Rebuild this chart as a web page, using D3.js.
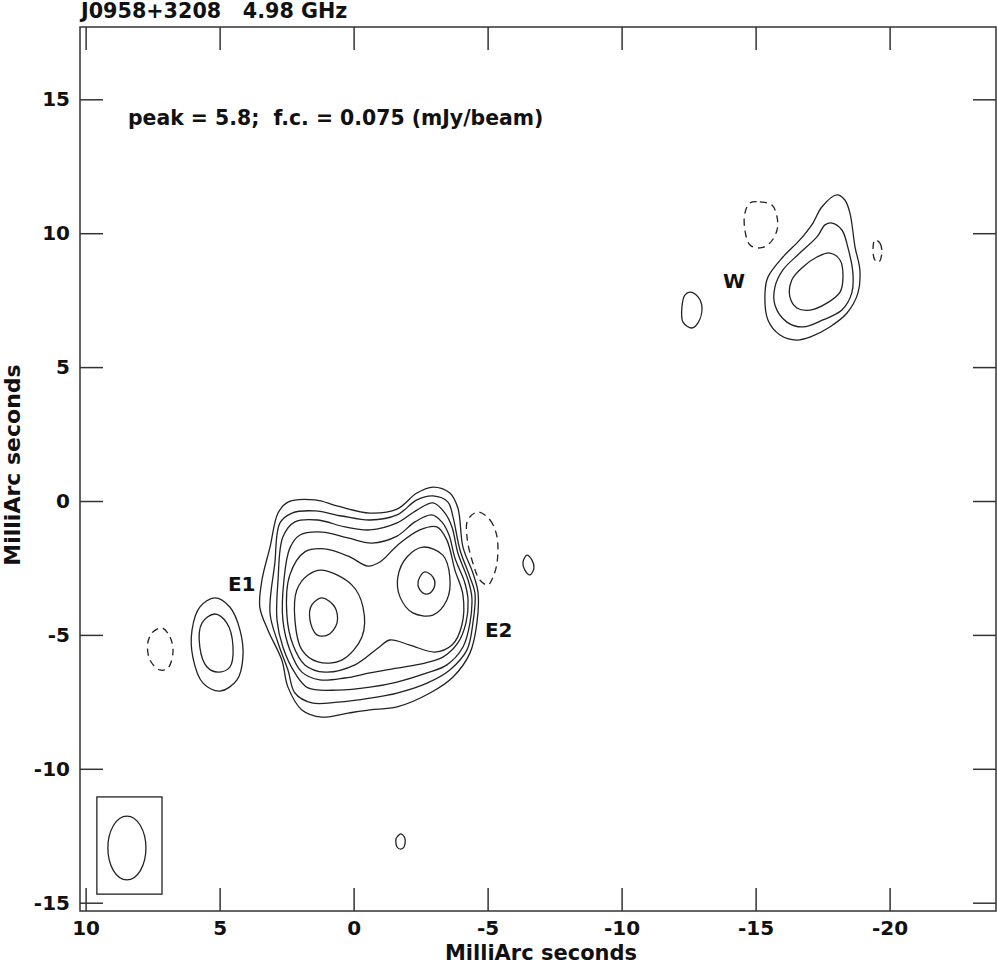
<!DOCTYPE html>
<html><head><meta charset="utf-8">
<script src="https://cdn.jsdelivr.net/npm/d3@7"></script>
<style>
html,body{margin:0;padding:0;background:#fff;}
svg text{font-family:"DejaVu Sans",sans-serif;font-weight:bold;fill:#111;white-space:pre;}
</style></head>
<body><svg id="c" width="997" height="965"></svg>
<script>
// ---- axes / text data ----
const xDomain = [10.21, -23.97];
const yDomain = [17.70, -15.31];
const xTicks = [10, 5, 0, -5, -10, -15, -20];
const yTicks = [15, 10, 5, 0, -5, -10, -15];
const titleText = "J0958+3208   4.98 GHz";
const peakText = "peak = 5.8;  f.c. = 0.075 (mJy/beam)";
const axisLabel = "MilliArc seconds";
const componentLabels = [["E1", 4.69, -3.36], ["E2", -4.90, -5.08], ["W", -13.78, 7.95]];
const beam = {cx: 8.46, cy: -12.96, rx: 0.71, ry: 1.19};
const beamBox = [9.58, -11.05, 7.15, -14.68];

// ---- contour data (mas) ----
const eLevel1 = [[2.45,-0.04],[1.44,0.04],[0.59,-0.19],[-0.61,-0.45],[-1.62,-0.30],[-2.36,0.30],[-2.96,0.52],[-3.59,0.30],[-3.89,-0.26],[-4.08,-1.72],[-4.45,-2.69],[-4.64,-3.40],[-4.60,-4.56],[-4.34,-5.68],[-3.71,-6.57],[-2.85,-7.17],[-1.62,-7.69],[-0.61,-7.80],[0.21,-7.92],[1.18,-8.07],[1.93,-7.80],[2.45,-6.95],[2.68,-5.94],[3.20,-4.82],[3.50,-3.96],[3.42,-2.95],[3.12,-1.72],[2.82,-0.45]];
const eLevel2 = [[2.30,-0.45],[1.44,-0.37],[0.44,-0.56],[-0.61,-0.71],[-1.62,-0.52],[-2.36,0.04],[-2.96,0.19],[-3.52,-0.04],[-3.71,-0.60],[-3.97,-1.83],[-4.34,-2.84],[-4.53,-3.47],[-4.45,-4.56],[-4.23,-5.56],[-3.59,-6.31],[-2.74,-6.80],[-1.62,-7.17],[-0.61,-7.36],[0.59,-7.51],[1.56,-7.54],[2.19,-7.17],[2.45,-6.31],[2.82,-5.30],[3.12,-4.18],[2.94,-2.32],[2.75,-0.82]];
const eLevel3 = [[2.19,-0.78],[1.33,-0.71],[0.32,-0.97],[-0.61,-1.08],[-1.62,-0.82],[-2.36,-0.34],[-2.96,-0.07],[-3.41,-0.45],[-3.67,-0.97],[-3.89,-1.94],[-4.27,-2.95],[-4.41,-3.58],[-4.34,-4.56],[-4.08,-5.45],[-3.48,-6.12],[-2.74,-6.42],[-1.62,-6.76],[-0.61,-6.95],[0.59,-7.06],[1.70,-6.98],[2.19,-6.42],[2.64,-5.45],[2.86,-4.44],[2.82,-2.95],[2.64,-1.34]];
const eLevel4 = [[2.00,-1.27],[1.18,-1.16],[0.21,-1.38],[-0.68,-1.57],[-1.62,-1.31],[-2.29,-0.78],[-2.92,-0.52],[-3.29,-0.78],[-3.56,-1.27],[-3.78,-2.13],[-4.15,-3.06],[-4.27,-3.70],[-4.19,-4.56],[-3.89,-5.30],[-3.33,-5.83],[-2.66,-6.05],[-1.62,-6.24],[-0.61,-6.42],[0.32,-6.61],[1.26,-6.68],[1.93,-6.39],[2.38,-5.56],[2.64,-4.44],[2.60,-2.95],[2.38,-1.76]];
const eLevel5 = [[1.82,-1.90],[1.07,-1.79],[0.14,-2.09],[-0.53,-2.43],[-0.98,-2.28],[-1.65,-1.64],[-2.47,-1.08],[-3.11,-0.97],[-3.48,-1.46],[-3.78,-2.58],[-4.08,-3.51],[-4.04,-4.63],[-3.67,-5.38],[-3.03,-5.64],[-2.10,-5.38],[-1.35,-5.19],[-0.91,-5.49],[-0.05,-6.12],[1.07,-6.39],[1.82,-6.12],[2.26,-5.38],[2.49,-4.26],[2.38,-2.76]];
const e1Level6 = [[1.18,-2.58],[0.06,-3.14],[-0.35,-3.96],[-0.31,-5.08],[0.44,-5.94],[1.33,-6.01],[1.93,-5.56],[2.19,-4.44],[2.12,-3.32],[1.70,-2.76]];
const e1Level7 = [[1.18,-3.62],[0.70,-3.96],[0.62,-4.56],[0.96,-5.00],[1.37,-5.00],[1.63,-4.44],[1.56,-3.88]];
const e2Level6 = [[-2.59,-1.72],[-3.33,-2.02],[-3.59,-2.84],[-3.48,-3.70],[-2.96,-4.26],[-2.21,-4.18],[-1.73,-3.58],[-1.65,-2.84],[-1.99,-2.09]];
const e2Level7 = [[-2.66,-2.65],[-2.96,-2.84],[-3.03,-3.14],[-2.85,-3.44],[-2.59,-3.44],[-2.40,-3.14],[-2.47,-2.84]];
const eastKnotOuter = [[5.18,-3.62],[4.62,-3.96],[4.24,-4.82],[4.13,-5.83],[4.35,-6.68],[4.99,-7.10],[5.62,-6.80],[6.00,-5.83],[6.03,-4.82],[5.74,-3.96]];
const eastKnotInner = [[5.18,-4.22],[4.73,-4.56],[4.50,-5.45],[4.62,-6.20],[5.06,-6.39],[5.47,-6.20],[5.74,-5.45],[5.66,-4.56]];
const eastNegative = [[7.15,-4.74],[6.85,-5.08],[6.74,-5.64],[6.93,-6.24],[7.23,-6.31],[7.60,-5.94],[7.68,-5.30],[7.49,-4.89]];
const e2Negative = [[-4.64,-0.41],[-5.09,-0.71],[-5.35,-1.34],[-5.35,-2.32],[-5.20,-2.84],[-5.01,-3.14],[-4.71,-2.95],[-4.45,-2.32],[-4.23,-1.34],[-4.26,-0.71]];
const e2Blob = [[-6.47,-2.02],[-6.65,-2.20],[-6.73,-2.50],[-6.58,-2.76],[-6.39,-2.58],[-6.32,-2.28]];
const wLevel1 = [[-18.03,11.43],[-18.33,11.24],[-18.52,10.75],[-18.71,9.48],[-18.89,8.63],[-18.82,7.77],[-18.41,7.02],[-17.77,6.50],[-17.03,6.12],[-16.54,6.01],[-15.91,6.20],[-15.46,6.76],[-15.35,7.77],[-15.46,8.36],[-16.02,9.11],[-16.65,9.75],[-17.14,10.38],[-17.47,10.98]];
const wLevel2 = [[-17.85,10.38],[-18.22,10.12],[-18.44,9.48],[-18.63,8.51],[-18.59,7.77],[-18.22,7.13],[-17.51,6.76],[-16.77,6.50],[-16.17,6.68],[-15.72,7.32],[-15.72,7.99],[-16.02,8.63],[-16.65,9.26],[-17.29,9.86],[-17.59,10.31]];
const wLevel3 = [[-17.77,9.26],[-18.15,9.00],[-18.26,8.36],[-18.15,7.80],[-17.66,7.39],[-17.03,7.13],[-16.54,7.21],[-16.28,7.62],[-16.35,8.25],[-16.77,8.74],[-17.29,9.11]];
const wNegative = [[-14.79,11.13],[-15.16,11.17],[-15.61,11.05],[-15.80,10.60],[-15.80,10.12],[-15.53,9.63],[-15.16,9.45],[-14.79,9.56],[-14.60,10.12],[-14.60,10.75]];
const wNegSmall = [[-19.45,9.75],[-19.64,9.63],[-19.71,9.26],[-19.60,8.92],[-19.45,9.00],[-19.38,9.37]];
const wBlob = [[-12.55,7.80],[-12.85,7.62],[-13.00,7.21],[-12.85,6.65],[-12.62,6.46],[-12.29,6.68],[-12.25,7.24],[-12.36,7.69]];
const southBlob = [[-1.76,-12.43],[-1.91,-12.58],[-1.88,-12.92],[-1.76,-13.00],[-1.62,-12.92],[-1.58,-12.62],[-1.65,-12.51]];

const positiveContours = [eLevel1, eLevel2, eLevel3, eLevel4, eLevel5, e1Level6, e1Level7, e2Level6, e2Level7,
  eastKnotOuter, eastKnotInner, e2Blob, wLevel1, wLevel2, wLevel3, wBlob, southBlob];
const negativeContours = [eastNegative, e2Negative, wNegative, wNegSmall];

// ---- drawing ----
const svg = d3.select("#c");
const L = 80, R = 996, T = 27, B = 911;
const x = d3.scaleLinear().domain(xDomain).range([L, R]);
const y = d3.scaleLinear().domain(yDomain).range([T, B]);
const ink = "#222";

const line = d3.line().x(d => x(d[0])).y(d => y(d[1])).curve(d3.curveCatmullRomClosed.alpha(0.5));

const g = svg.append("g");
g.selectAll("path.pos").data(positiveContours).join("path")
  .attr("class", "pos").attr("d", line)
  .attr("fill", "none").attr("stroke", ink).attr("stroke-width", 1.3);
g.selectAll("path.neg").data(negativeContours).join("path")
  .attr("class", "neg").attr("d", line)
  .attr("fill", "none").attr("stroke", ink).attr("stroke-width", 1.3)
  .attr("stroke-dasharray", "7,5");

// beam
g.append("rect")
  .attr("x", x(beamBox[0])).attr("y", y(beamBox[1]))
  .attr("width", x(beamBox[2]) - x(beamBox[0])).attr("height", y(beamBox[3]) - y(beamBox[1]))
  .attr("fill", "none").attr("stroke", ink).attr("stroke-width", 1.3);
g.append("ellipse")
  .attr("cx", x(beam.cx)).attr("cy", y(beam.cy))
  .attr("rx", x(beam.cx - beam.rx) - x(beam.cx)).attr("ry", y(beam.cy - beam.ry) - y(beam.cy))
  .attr("fill", "none").attr("stroke", ink).attr("stroke-width", 1.3);

// axes
const tick = 23;
const fontSize = "20px";
const fmt = d => String(d);
const ax = (sel) => { sel.select(".domain").remove(); sel.selectAll("line").attr("stroke", "#333").attr("stroke-width", 1.5); sel.selectAll("text").attr("font-size", fontSize).attr("fill", "#111").attr("font-family", "DejaVu Sans").attr("font-weight", "bold"); };
svg.append("g").attr("transform", `translate(0,${B})`)
  .call(d3.axisBottom(x).tickValues(xTicks).tickSizeInner(-tick).tickSizeOuter(0).tickPadding(10).tickFormat(fmt))
  .call(ax);
svg.append("g").attr("transform", `translate(0,${T})`)
  .call(d3.axisTop(x).tickValues(xTicks).tickSizeInner(-tick).tickSizeOuter(0).tickFormat(""))
  .call(ax);
svg.append("g").attr("transform", `translate(${L},0)`)
  .call(d3.axisLeft(y).tickValues(yTicks).tickSizeInner(-tick).tickSizeOuter(0).tickPadding(10).tickFormat(fmt))
  .call(ax);
svg.append("g").attr("transform", `translate(${R},0)`)
  .call(d3.axisRight(y).tickValues(yTicks).tickSizeInner(-tick).tickSizeOuter(0).tickFormat(""))
  .call(ax);

svg.append("rect").attr("x", L).attr("y", T).attr("width", R - L).attr("height", B - T)
  .attr("fill", "none").attr("stroke", "#333").attr("stroke-width", 1.5);

// texts
svg.append("text").attr("x", 81).attr("y", 17.5).attr("font-size", "20.7px").attr("xml:space", "preserve").text(titleText);
svg.append("text").attr("x", 128).attr("y", 125).attr("font-size", "20.4px").attr("xml:space", "preserve").text(peakText);
svg.append("text").attr("x", 541).attr("y", 960).attr("text-anchor", "middle").attr("font-size", "21px").text(axisLabel);
svg.append("text").attr("transform", "translate(20,465) rotate(-90)").attr("text-anchor", "middle").attr("font-size", "22px").text(axisLabel);
svg.selectAll("text.comp").data(componentLabels).join("text").attr("class", "comp")
  .attr("x", d => x(d[1])).attr("y", d => y(d[2])).attr("font-size", fontSize).text(d => d[0]);
</script></body></html>
